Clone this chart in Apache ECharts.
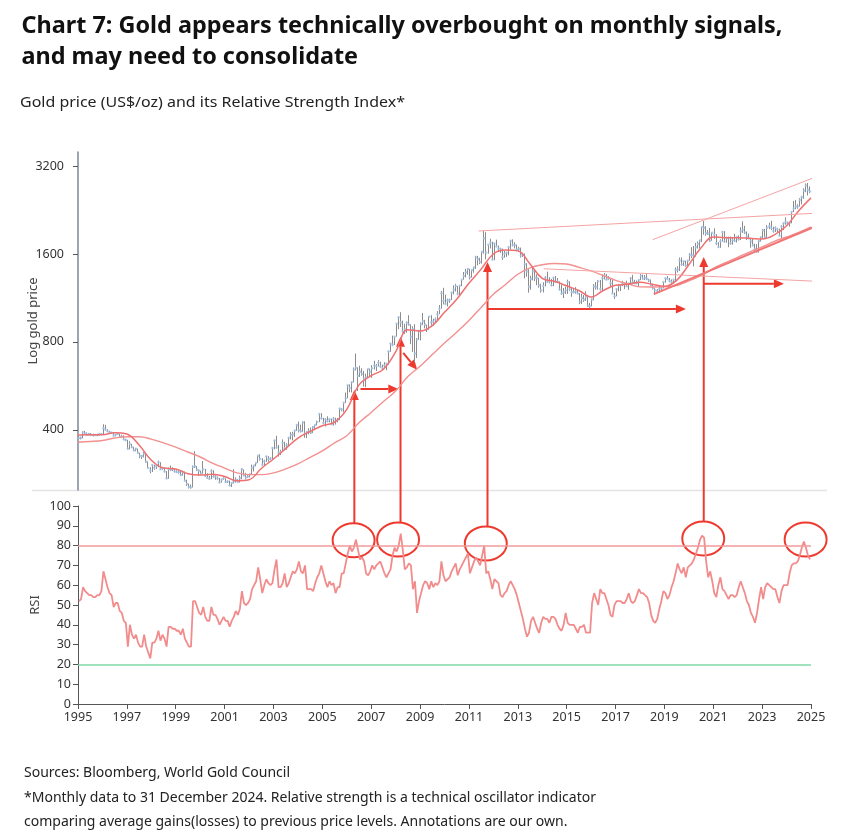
<!DOCTYPE html>
<html>
<head>
<meta charset="utf-8">
<script src="https://cdn.jsdelivr.net/npm/echarts@6/dist/echarts.min.js"></script>
<style>
  html, body { margin: 0; padding: 0; background: #fff; }
  #chart { width: 850px; height: 836px; }
</style>
</head>
<body>
<div id="chart"></div>
<script>
// monthly gold price (US$/oz), Jan 1995 - Dec 2024; open = previous close
const firstOpen = 383;
const close = [
  375,376,392,389,385,387,384,383,384,383,387,387,
  405,400,396,392,391,382,385,387,379,379,371,369,
  345,358,349,340,345,334,326,325,332,311,296,290,
  303,297,301,310,293,296,288,273,294,292,294,288,
  287,287,280,286,268,261,255,254,299,300,292,290,
  283,293,278,274,272,289,277,277,273,264,270,273,
  265,267,258,263,267,270,265,273,293,279,275,277,
  282,297,302,308,326,318,304,312,324,317,319,347,
  368,348,334,336,361,346,354,376,385,386,398,416,
  399,396,424,388,393,395,391,408,416,426,453,438,
  422,435,428,435,418,437,429,433,473,470,495,513,
  569,556,582,644,653,613,633,623,599,604,646,632,
  650,665,662,679,659,650,665,673,743,789,783,834,
  923,971,933,871,885,930,918,833,884,730,814,870,
  919,942,916,884,975,934,939,955,996,1040,1175,1104,
  1078,1109,1113,1180,1208,1244,1169,1246,1307,1346,1386,1421,
  1333,1410,1439,1556,1536,1501,1628,1813,1620,1722,1747,1531,
  1738,1697,1669,1664,1559,1604,1615,1692,1773,1719,1713,1657,
  1664,1578,1595,1476,1393,1235,1314,1396,1327,1323,1250,1202,
  1244,1326,1284,1288,1250,1327,1282,1287,1208,1172,1183,1199,
  1284,1213,1184,1183,1190,1172,1095,1132,1115,1142,1065,1060,
  1118,1238,1232,1290,1215,1322,1351,1309,1316,1272,1173,1146,
  1211,1249,1249,1268,1268,1242,1269,1322,1280,1271,1275,1303,
  1345,1318,1325,1316,1299,1253,1224,1202,1192,1215,1222,1282,
  1321,1313,1292,1283,1305,1409,1414,1520,1472,1511,1464,1517,
  1589,1585,1577,1686,1730,1781,1975,1967,1886,1879,1777,1891,
  1863,1743,1691,1769,1903,1763,1814,1813,1743,1783,1774,1829,
  1797,1909,1937,1897,1838,1807,1766,1711,1660,1633,1768,1824,
  1928,1827,1969,1990,1962,1919,1965,1940,1849,1984,2036,2063,
  2040,2044,2230,2286,2327,2327,2448,2503,2634,2744,2657,2625
];
const high = [
  384,379,396,397,392,390,390,388,387,388,389,390,
  418,416,402,397,394,391,387,390,388,385,383,373,
  370,366,358,350,347,345,334,328,336,333,312,298,
  305,304,303,314,310,298,297,289,297,302,298,295,
  291,291,289,290,288,270,262,260,302,338,301,293,
  290,313,294,284,278,293,291,281,277,274,272,275,
  273,268,268,264,293,275,271,279,296,293,285,281,
  283,304,302,309,327,330,320,316,326,325,322,349,
  370,382,355,342,371,364,360,378,393,394,399,417,
  427,417,428,428,396,405,407,412,416,430,455,456,
  440,438,445,437,437,442,440,439,474,474,496,537,
  569,572,585,654,730,655,663,650,637,623,646,648,
  666,690,672,693,684,669,682,678,744,794,841,835,
  928,976,1011,946,923,940,988,920,905,920,825,880,
  933,1005,952,917,980,988,960,970,1020,1070,1195,1226,
  1161,1125,1125,1180,1249,1265,1244,1248,1307,1388,1423,1431,
  1424,1411,1447,1577,1577,1554,1632,1917,1900,1726,1804,1764,
  1745,1791,1709,1680,1670,1640,1628,1693,1790,1796,1755,1724,
  1693,1683,1616,1605,1488,1420,1348,1434,1421,1362,1324,1267,
  1280,1345,1392,1332,1315,1332,1345,1324,1290,1255,1224,1238,
  1307,1290,1224,1224,1232,1205,1175,1170,1157,1192,1143,1088,
  1127,1262,1282,1302,1304,1362,1377,1367,1344,1319,1305,1180,
  1220,1264,1261,1295,1270,1296,1269,1331,1357,1306,1299,1307,
  1366,1361,1356,1365,1316,1309,1265,1224,1214,1243,1236,1284,
  1326,1346,1324,1310,1306,1439,1452,1555,1557,1518,1516,1526,
  1611,1689,1704,1747,1765,1789,1984,2075,1992,1933,1965,1898,
  1959,1871,1755,1797,1913,1916,1832,1834,1836,1814,1877,1831,
  1853,1974,2070,1998,1910,1879,1814,1807,1735,1730,1786,1833,
  1949,1950,2009,2048,2078,1984,1987,1966,1953,2009,2052,2135,
  2065,2053,2236,2431,2450,2369,2484,2531,2686,2790,2801,2726
];
const low = [
  372,371,374,385,383,383,382,380,382,381,382,385,
  387,398,393,389,390,381,380,385,378,377,370,366,
  343,343,347,339,338,332,320,318,322,309,295,284,
  287,292,294,298,292,292,286,271,272,289,289,286,
  285,283,278,279,268,257,252,252,254,296,289,279,
  282,283,276,272,270,271,275,270,270,263,264,270,
  263,263,257,255,262,264,264,264,271,278,271,274,
  275,282,288,300,308,314,302,303,311,311,316,317,
  343,345,324,328,336,343,342,352,371,368,378,397,
  392,392,394,376,375,386,387,390,399,414,425,434,
  420,411,425,425,418,414,417,425,432,463,459,495,
  513,538,537,582,639,543,607,613,563,560,604,608,
  603,644,636,659,653,642,650,640,669,740,774,781,
  834,885,900,861,852,860,909,786,740,681,705,814,
  810,914,890,865,880,912,908,933,948,996,1040,1075,
  1076,1058,1089,1113,1165,1190,1156,1157,1242,1307,1330,1359,
  1309,1329,1380,1422,1462,1478,1483,1604,1535,1604,1672,1523,
  1523,1695,1629,1614,1527,1554,1564,1582,1659,1699,1672,1635,
  1626,1555,1564,1321,1338,1180,1207,1300,1292,1251,1226,1180,
  1182,1240,1277,1268,1240,1241,1280,1281,1205,1161,1131,1167,
  1167,1197,1142,1175,1170,1163,1077,1080,1097,1106,1053,1046,
  1060,1110,1208,1208,1200,1199,1310,1301,1302,1242,1171,1123,
  1146,1191,1195,1245,1213,1236,1205,1266,1274,1262,1260,1237,
  1302,1307,1303,1302,1282,1245,1211,1160,1180,1182,1196,1221,
  1276,1310,1281,1266,1266,1292,1383,1400,1459,1458,1446,1459,
  1517,1548,1451,1567,1670,1671,1757,1863,1848,1860,1764,1776,
  1803,1717,1677,1680,1765,1750,1750,1688,1722,1722,1762,1753,
  1780,1786,1890,1872,1787,1805,1681,1709,1615,1618,1617,1765,
  1804,1805,1805,1949,1932,1893,1903,1885,1846,1810,1932,2017,
  2002,1985,2038,2228,2278,2286,2326,2364,2472,2604,2537,2583
];

// monthly RSI, Jan 1995 - Dec 2024
const rsi = [
  52,53,59,57,56,55,55,54,54,55,55,57,
  67,63,59,56,55,49,51,51,47,46,42,41,
  29,40,35,33,35,31,29,29,35,29,26,23,
  31,31,33,37,32,35,33,29,39,39,38,38,
  37,37,35,38,33,31,29,29,52,52,49,46,
  45,49,44,42,42,49,45,45,43,40,42,44,
  42,42,39,42,44,47,45,48,57,51,50,51,
  53,58,60,62,69,63,56,60,63,61,60,61,
  68,73,59,59,61,66,59,61,64,67,66,68,
  72,67,66,70,58,58,58,57,61,64,66,70,
  66,62,59,62,60,61,56,59,59,66,66,71,
  76,80,77,79,83,78,73,74,72,66,65,67,
  70,68,70,71,72,69,66,64,66,68,75,79,
  77,80,86,78,68,69,71,70,58,62,46,52,
  56,60,62,61,58,62,59,61,60,62,72,65,
  62,63,64,67,69,71,65,68,70,72,74,76,
  66,69,72,74,72,70,75,80,66,67,63,58,
  63,62,61,55,54,56,57,60,62,60,58,55,
  51,47,43,38,34,36,42,44,41,38,36,41,
  44,43,43,41,44,44,43,40,38,37,40,46,
  41,40,40,40,38,36,39,39,40,36,36,36,
  51,56,53,50,58,56,56,53,50,45,44,50,
  52,52,52,51,51,53,56,52,51,52,55,58,
  56,56,55,54,51,45,42,41,43,48,52,57,
  56,53,55,59,62,66,71,68,66,69,64,69,
  70,71,73,76,79,83,85,84,72,64,67,62,
  56,54,60,64,58,57,55,53,55,55,54,55,
  59,62,59,56,52,50,46,44,41,46,53,59,
  53,59,61,60,59,58,58,54,51,57,60,60,
  60,66,70,71,71,72,75,79,82,79,75,73
];

// moving averages, read every half year from 1995.0 to 2025.0
const maShort = [
  384,385,385,391,387,355,315,296,294,283,280,282,277,268,270,295,318,345,375,395,
  413,425,470,570,613,645,740,880,872,910,1010,1120,1270,1420,1600,1650,1640,1480,1320,1290,
  1245,1200,1140,1200,1250,1260,1280,1260,1240,1300,1470,1680,1830,1820,1820,1810,1800,1860,2000,2250,
  2490
];
const maLong = [
  363,365,368,375,379,379,372,361,349,336,323,308,296,285,281,281,285,294,306,322,
  339,361,382,423,459,500,543,609,660,724,793,864,947,1050,1165,1258,1364,1435,1470,1485,
  1478,1441,1400,1350,1300,1265,1235,1234,1235,1248,1295,1348,1428,1495,1559,1628,1691,1768,1829,1896,
  1981
];

const priceTicks = [400, 800, 1600, 3200];
const yearTicks = [1995, 1997, 1999, 2001, 2003, 2005, 2007, 2009, 2011, 2013, 2015, 2017, 2019, 2021, 2023, 2025];
const rsiLevels = [80, 20];

// annotations (year, price) / (year, RSI)
const trendLines = [
  [[2011.39, 1918], [2025.08, 2204]],
  [[2018.52, 1791], [2025.61, 3027]],
  [[2014.06, 1424], [2025.08, 1292]]
];
const supportLine = [[2018.57, 1166], [2025.61, 2058]];
const circles = [[2006.28, 82.7], [2008.10, 83.1], [2011.69, 81.1], [2020.59, 83.6], [2024.78, 83.1]];
const upArrows = [[2006.31, 548], [2008.20, 834], [2011.76, 1502], [2020.61, 1563]];
const sideArrows = [
  [[2006.56, 552], [2008.11, 552]],
  [[2008.31, 734], [2008.88, 642]],
  [[2011.76, 1037], [2019.88, 1037]],
  [[2020.61, 1265], [2023.89, 1265]]
];

const lg = Math.log2;
const monthX = close.map((c, i) => 1995 + (i + 0.5) / 12);
const maX = maShort.map((v, i) => 1995 + i / 2);
const candles = close.map((c, i) => [monthX[i], lg(i ? close[i - 1] : firstOpen), lg(c), lg(low[i]), lg(high[i])]);

const font = '"Noto Sans", sans-serif';
const axisText = { color: '#333', fontSize: 12.5, fontFamily: font };
const red = '#ee3a2e';

const chart = echarts.init(document.getElementById('chart'));

const trendSeries = trendLines.map(pts => ({
  type: 'line', xAxisIndex: 0, yAxisIndex: 0, clip: false, silent: true, showSymbol: false,
  data: pts.map(p => [p[0], lg(p[1])]),
  lineStyle: { color: '#f5a3a3', width: 1 }
}));

chart.setOption({
  animation: false,
  grid: [
    { left: 78, right: 39, top: 152, height: 338 },
    { left: 78, right: 39, top: 506, height: 198 }
  ],
  xAxis: [
    { gridIndex: 0, type: 'value', min: 1995, max: 2025, show: false },
    {
      gridIndex: 1, type: 'value', min: 1995, max: 2025,
      axisLine: { lineStyle: { color: '#555' } },
      axisTick: { customValues: yearTicks, length: 5, lineStyle: { color: '#555' } },
      axisLabel: Object.assign({ customValues: yearTicks, margin: 7, formatter: v => String(v) }, axisText),
      splitLine: { show: false }
    }
  ],
  yAxis: [
    {
      gridIndex: 0, type: 'value', min: lg(249), max: lg(3575),
      name: 'Log gold price', nameLocation: 'middle', nameGap: 38, nameMoveOverlap: false,
      nameTextStyle: { color: '#444', fontSize: 13, fontFamily: font },
      axisLine: { show: true, lineStyle: { color: '#7d889a', width: 1.5 } },
      axisTick: { show: true, customValues: priceTicks.map(lg), length: 5, lineStyle: { color: '#555' } },
      axisLabel: Object.assign({ customValues: priceTicks.map(lg), margin: 14, formatter: v => String(Math.round(Math.pow(2, v))) }, axisText),
      splitLine: { show: false }
    },
    {
      gridIndex: 1, type: 'value', min: 0, max: 100, interval: 10,
      name: 'RSI', nameLocation: 'middle', nameGap: 36, nameMoveOverlap: false,
      nameTextStyle: { color: '#444', fontSize: 13, fontFamily: font },
      axisLine: { show: true, lineStyle: { color: '#555' } },
      axisTick: { show: true, length: 5, lineStyle: { color: '#555' } },
      axisLabel: Object.assign({ margin: 7 }, axisText),
      splitLine: { show: false }
    }
  ],
  series: [
    {
      type: 'candlestick', xAxisIndex: 0, yAxisIndex: 0, data: candles,
      encode: { x: 0, y: [1, 2, 3, 4] }, barWidth: 1.2, silent: true,
      itemStyle: { color: '#8c8c8c', color0: '#8c8c8c', borderColor: '#8c8c8c', borderColor0: '#8c8c8c', borderWidth: 1 }
    },
    {
      type: 'scatter', xAxisIndex: 0, yAxisIndex: 0, silent: true,
      data: close.map((c, i) => [monthX[i], lg(c)]),
      symbolSize: 2.5, itemStyle: { color: '#a3c2e6' }
    },
    {
      type: 'line', xAxisIndex: 0, yAxisIndex: 0, smooth: 0.4, showSymbol: false, silent: true,
      data: maLong.map((v, i) => [maX[i], lg(v)]),
      lineStyle: { color: '#f39090', width: 1.4 }
    },
    {
      type: 'line', xAxisIndex: 0, yAxisIndex: 0, smooth: 0.4, showSymbol: false, silent: true,
      data: maShort.map((v, i) => [maX[i], lg(v)]),
      lineStyle: { color: '#ef7070', width: 1.5 }
    },
    ...trendSeries,
    {
      type: 'line', xAxisIndex: 0, yAxisIndex: 0, clip: false, silent: true, showSymbol: false,
      data: supportLine.map(p => [p[0], lg(p[1])]),
      lineStyle: { color: '#f07575', width: 2 }
    },
    {
      type: 'line', xAxisIndex: 1, yAxisIndex: 1, showSymbol: false, silent: true,
      data: rsi.map((v, i) => [monthX[i], v]),
      lineStyle: { color: '#f28c8c', width: 1.8 },
      markLine: {
        silent: true, symbol: 'none', label: { show: false },
        data: rsiLevels.map(v => ({ yAxis: v, lineStyle: { type: 'solid', width: 1.5, color: v > 50 ? '#f29a9a' : '#7fd8a6' } }))
      }
    }
  ]
});

// texts, condensed to the widths of the original
const ctx = document.createElement('canvas').getContext('2d');
function fit(text, f, width) { ctx.font = f; return width / ctx.measureText(text).width; }
const titleFont = 'bold 24px "Noto Sans"';
const subFont = '15px "Noto Sans"';
const noteFont = '14px "Noto Sans"';
const t1 = 'Chart 7: Gold appears technically overbought on monthly signals,';
const t2 = 'and may need to consolidate';
const sub = 'Gold price (US$/oz) and its Relative Strength Index*';
const notes = [
  'Sources: Bloomberg, World Gold Council',
  '*Monthly data to 31 December 2024. Relative strength is a technical oscillator indicator',
  'comparing average gains(losses) to previous price levels. Annotations are our own.'
];
const sTitle = fit(t1, titleFont, 761);
const sSub = fit(sub, subFont, 385);
const sNote = fit(notes[1], noteFont, 572);

function txt(text, x, y, f, s, color) {
  return { type: 'text', x: x, y: y, scaleX: s, silent: true,
    style: { text: text, font: f, fill: color, verticalAlign: 'middle' } };
}

const graphics = [
  txt(t1, 21.5, 26, titleFont, sTitle, '#111'),
  txt(t2, 21.5, 57, titleFont, sTitle, '#111'),
  txt(sub, 20, 103, subFont, sSub, '#222'),
  txt(notes[0], 24, 773, noteFont, sNote, '#222'),
  txt(notes[1], 24, 798, noteFont, sNote, '#222'),
  txt(notes[2], 24, 822, noteFont, sNote, '#222'),
  { type: 'line', silent: true, shape: { x1: 32, y1: 490.5, x2: 827, y2: 490.5 }, style: { stroke: '#e4e4e4', lineWidth: 1.5 } }
];

function arrow(p0, p1) {
  const dx = p1[0] - p0[0], dy = p1[1] - p0[1], len = Math.hypot(dx, dy);
  const ux = dx / len, uy = dy / len, hl = 10, hw = 4.5;
  const bx = p1[0] - ux * hl, by = p1[1] - uy * hl;
  return [
    { type: 'line', silent: true, shape: { x1: p0[0], y1: p0[1], x2: bx, y2: by }, style: { stroke: red, lineWidth: 2 } },
    { type: 'polygon', silent: true, shape: { points: [p1, [bx - uy * hw, by + ux * hw], [bx + uy * hw, by - ux * hw]] }, style: { fill: red } }
  ];
}

const toPrice = p => chart.convertToPixel({ gridIndex: 0 }, [p[0], lg(p[1])]);
const toRsi = p => chart.convertToPixel({ gridIndex: 1 }, p);
const rx = 21, ry = 17;

circles.forEach(c => {
  const pt = toRsi(c);
  graphics.push({ type: 'ellipse', silent: true, shape: { cx: pt[0], cy: pt[1], rx: rx, ry: ry }, style: { fill: 'none', stroke: red, lineWidth: 2 } });
});
upArrows.forEach((a, i) => {
  const top = toPrice(a);
  const c = toRsi(circles[i]);
  graphics.push(...arrow([top[0], c[1] - ry], top));
});
sideArrows.forEach(a => graphics.push(...arrow(toPrice(a[0]), toPrice(a[1]))));

chart.setOption({ graphic: graphics });
</script>
</body>
</html>
